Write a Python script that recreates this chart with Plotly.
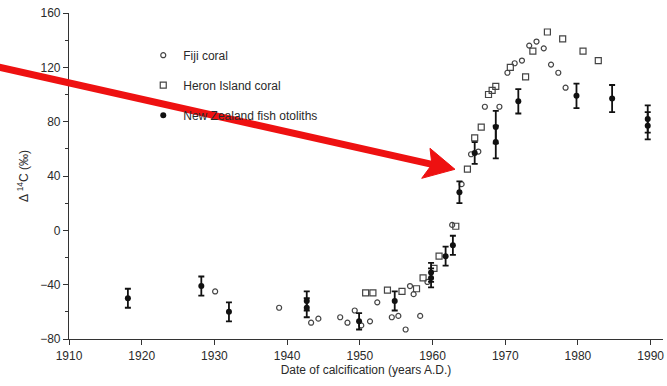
import plotly.graph_objects as go

# Fiji coral
fiji_year = [1930.1, 1938.9, 1943.3, 1944.3, 1947.3, 1948.3, 1949.3, 1950.2, 1951.4, 1952.4,
             1954.4, 1955.3, 1956.3, 1956.9, 1957.4, 1958.3, 1959.3, 1962.7, 1964.0, 1965.3,
             1966.3, 1967.2, 1969.2, 1970.3, 1971.3, 1972.3, 1973.3, 1974.3, 1975.3, 1976.3,
             1977.3, 1978.3]
fiji_d14c = [-45, -57, -68, -65, -64, -68, -59, -70, -67, -53,
             -64, -63, -73, -41, -47, -63, -38, 4, 34, 56,
             58, 91, 91, 116, 123, 125, 136, 139, 134, 122,
             116, 105]

# Heron Island coral
heron_year = [1950.8, 1951.8, 1953.8, 1955.8, 1957.8, 1958.7, 1960.2, 1960.9, 1963.2, 1964.8,
              1965.8, 1966.7, 1967.7, 1968.2, 1968.7, 1970.7, 1972.8, 1973.8, 1975.8, 1977.9,
              1980.7, 1982.8]
heron_d14c = [-46, -46, -44, -45, -43, -35, -28, -19, 3, 45,
              68, 76, 100, 103, 106, 120, 113, 132, 146, 141,
              132, 125]

# New Zealand fish otoliths
oto_year = [1918.1, 1928.2, 1932.0, 1942.7, 1942.7, 1949.9, 1954.8, 1959.8, 1959.8, 1961.8,
            1962.8, 1963.7, 1965.8, 1968.7, 1968.7, 1971.8, 1979.8, 1984.7, 1989.6, 1989.6]
oto_d14c = [-50, -41, -60, -52, -57, -67, -52, -31, -35, -19,
            -11, 28, 57, 76, 65, 95, 99, 97, 82, 77]
oto_err = [7, 7, 7, 7, 7, 6, 7, 7, 7, 7,
           7, 8, 8, 12, 12, 9, 9, 10, 10, 10]

x_ticks = [1910, 1920, 1930, 1940, 1950, 1960, 1970, 1980, 1990]
y_ticks = [-80, -40, 0, 40, 80, 120, 160]

FONT = "Liberation Sans, Arial, Helvetica, sans-serif"
INK = "#2a2a2a"
RED = "#ee1111"

fig = go.Figure()
fig.add_trace(go.Scatter(
    x=fiji_year, y=fiji_d14c, mode="markers", name="Fiji coral", legendgroup="a",
    marker=dict(symbol="circle-open", size=5, color="#444", line=dict(width=1.2)),
))
fig.add_trace(go.Scatter(
    x=heron_year, y=heron_d14c, mode="markers", name="Heron Island coral", legendgroup="b",
    marker=dict(symbol="square-open", size=6, color="#444", line=dict(width=1.2)),
))
fig.add_trace(go.Scatter(
    x=oto_year, y=oto_d14c, mode="markers", name="New Zealand fish otoliths", legendgroup="c",
    marker=dict(symbol="circle", size=6, color="#111"),
    error_y=dict(type="data", array=oto_err, visible=True, color="#111", thickness=1.8, width=3),
))

# red arrow overlay, drawn as shapes so it doesn't push margins
arrow_shaft = dict(x0=-0.118, y0=0.834, x1=0.615, y1=0.534)
arrow_head = "M 0.6498 0.5206 L 0.6077 0.585 L 0.611 0.5353 L 0.5938 0.4929 Z"
fig.add_shape(type="line", xref="paper", yref="paper", line=dict(color=RED, width=7),
              layer="above", **arrow_shaft)
fig.add_shape(type="path", xref="paper", yref="paper", path=arrow_head,
              fillcolor=RED, line=dict(color=RED, width=1), layer="above")

fig.update_layout(
    width=667, height=386,
    margin=dict(l=69, r=4, t=13, b=47),
    paper_bgcolor="white", plot_bgcolor="white",
    font=dict(family=FONT, size=12, color=INK),
    showlegend=True,
    legend=dict(
        x=0.125, y=0.915, xanchor="left", yanchor="top",
        bgcolor="rgba(0,0,0,0)", tracegroupgap=11,
        font=dict(family=FONT, size=12, color=INK),
    ),
    xaxis=dict(
        range=[1910, 1991.7], tickvals=x_ticks, showgrid=False, zeroline=False,
        showline=True, linecolor="#333", linewidth=1.2, ticks="outside", ticklen=5,
        tickcolor="#333", tickfont=dict(size=12, color=INK),
        title=dict(text="Date of calcification (years A.D.)", font=dict(size=12, color=INK), standoff=4),
    ),
    yaxis=dict(
        range=[-80, 160], tickvals=y_ticks, showgrid=False, zeroline=False,
        showline=True, linecolor="#333", linewidth=1.2, ticks="outside", ticklen=5,
        tickcolor="#333", tickfont=dict(size=12, color=INK),
        minor=dict(dtick=20, ticks="outside", ticklen=3, tickcolor="#333"),
        title=dict(text="Δ <sup>14</sup>C (‰)", font=dict(size=12, color=INK), standoff=8),
    ),
)

fig.write_html("out.html", config={"displayModeBar": False},
               post_script="document.body.style.margin='0';")
